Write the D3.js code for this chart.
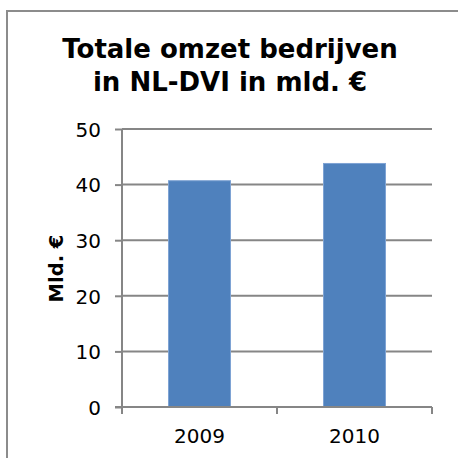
<!DOCTYPE html>
<html>
<head>
<meta charset="utf-8">
<script src="https://cdn.jsdelivr.net/npm/d3@7"></script>
<style>
  body { margin: 0; background: #fff; }
  text { font-family: "DejaVu Sans", Verdana, sans-serif; fill: #000; }
</style>
</head>
<body>
<div id="chart"></div>
<script>
// chart data
const years = ['2009', '2010'];
const omzet = [40.7, 43.8];
const yTicks = [0, 10, 20, 30, 40, 50];
const titleLines = ['Totale omzet bedrijven', 'in NL-DVI in mld. €'];
const yTitle = 'Mld. €';

const width = 458, height = 458;
const plot = { left: 122, right: 432, top: 129, bottom: 407 };

const svg = d3.select('#chart')
  .append('svg')
  .attr('width', width)
  .attr('height', height);

// outer frame (cut off on the right and bottom)
svg.append('path')
  .attr('d', `M7,${height + 2} L7,11 L${width + 2},11`)
  .attr('fill', 'none')
  .attr('stroke', '#8c8c8c')
  .attr('stroke-width', 2);

const x = d3.scaleBand()
  .domain(years)
  .range([plot.left, plot.right])
  .paddingInner(0.6)
  .paddingOuter(0.3);

const y = d3.scaleLinear()
  .domain([0, 50])
  .range([plot.bottom, plot.top]);

// gridlines
svg.append('g')
  .selectAll('line')
  .data(yTicks.filter(d => d > 0))
  .join('line')
  .attr('x1', plot.left)
  .attr('x2', plot.right)
  .attr('y1', d => y(d))
  .attr('y2', d => y(d))
  .attr('stroke', '#868686')
  .attr('stroke-width', 2);

// bars
svg.append('g')
  .selectAll('rect')
  .data(omzet)
  .join('rect')
  .attr('x', (d, i) => x(years[i]))
  .attr('width', x.bandwidth())
  .attr('y', d => y(d))
  .attr('height', d => y(0) - y(d))
  .attr('fill', '#4f81bd')
  .attr('stroke', '#7ea3d4')
  .attr('stroke-width', 1);

// y axis
const yAxis = svg.append('g')
  .attr('transform', `translate(${plot.left},0)`)
  .call(d3.axisLeft(y).tickValues(yTicks).tickSize(7).tickPadding(14));
yAxis.select('.domain').attr('stroke', '#868686').attr('stroke-width', 2)
  .attr('d', `M0,${plot.top}V${plot.bottom + 7}`);
yAxis.selectAll('.tick line').attr('stroke', '#868686').attr('stroke-width', 2);
yAxis.selectAll('text').style('font-size', '20px').attr('dy', '0.36em');

// x axis: ticks on category boundaries like Excel
const xAxis = svg.append('g')
  .attr('transform', `translate(0,${plot.bottom})`);
xAxis.append('line')
  .attr('x1', plot.left - 7).attr('x2', plot.right)
  .attr('stroke', '#868686').attr('stroke-width', 2);
const step = (plot.right - plot.left) / years.length;
xAxis.selectAll('.sep')
  .data(d3.range(1, years.length + 1))
  .join('line')
  .attr('class', 'sep')
  .attr('x1', i => plot.left + i * step)
  .attr('x2', i => plot.left + i * step)
  .attr('y1', 0).attr('y2', 7)
  .attr('stroke', '#868686').attr('stroke-width', 2);
xAxis.selectAll('text')
  .data(years)
  .join('text')
  .attr('x', d => x(d) + x.bandwidth() / 2)
  .attr('y', 36)
  .attr('text-anchor', 'middle')
  .style('font-size', '20px')
  .text(d => d);

// title
svg.append('text')
  .attr('x', 230)
  .attr('y', 58)
  .attr('text-anchor', 'middle')
  .style('font-size', '26px')
  .style('font-weight', 'bold')
  .selectAll('tspan')
  .data(titleLines)
  .join('tspan')
  .attr('x', 230)
  .attr('dy', (d, i) => i === 0 ? 0 : 33)
  .text(d => d);

// y axis title
svg.append('text')
  .attr('transform', 'translate(63,268.5) rotate(-90)')
  .attr('text-anchor', 'middle')
  .style('font-size', '19.5px')
  .style('font-weight', 'bold')
  .text(yTitle);
</script>
</body>
</html>
